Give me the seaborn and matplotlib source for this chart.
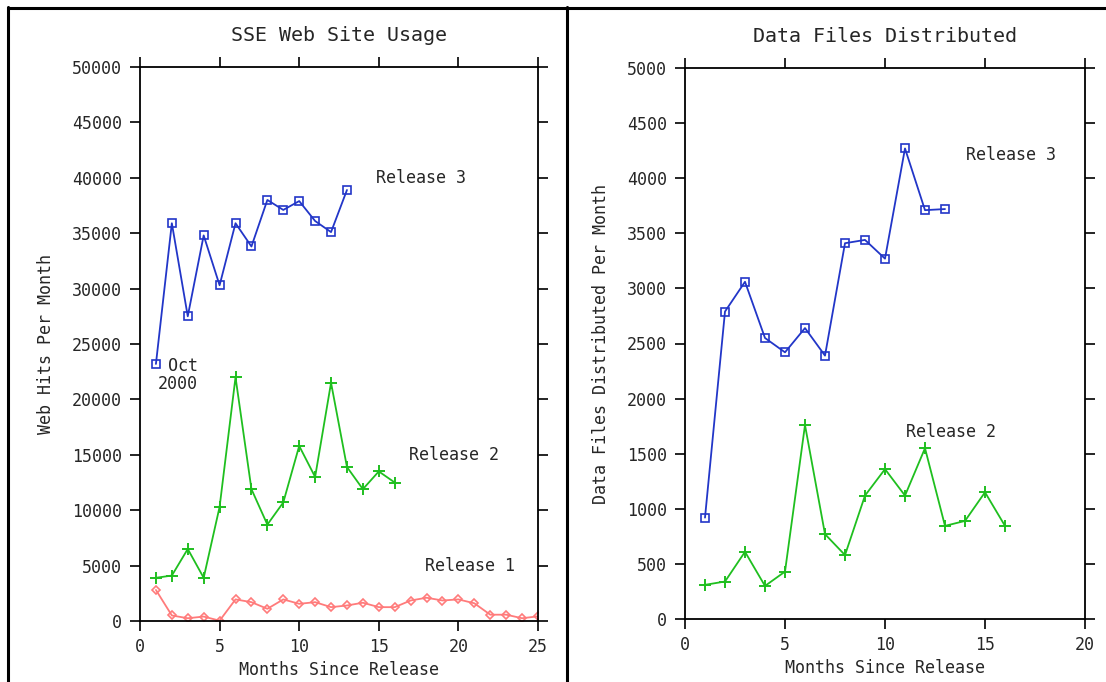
import numpy as np
import pandas as pd
import matplotlib
matplotlib.use("Agg")
import matplotlib.pyplot as plt
from matplotlib.lines import Line2D
import seaborn as sns

# ---------------- data ----------------
# SSE Web Site Usage (web hits per month)
web_r3_months = list(range(1, 14))
web_r3_hits = [23200, 35900, 27500, 34800, 30300, 35900, 33800, 38000, 37100, 37900, 36100, 35100, 38900]

web_r2_months = list(range(1, 17))
web_r2_hits = [3900, 4100, 6500, 3900, 10300, 22000, 11900, 8700, 10700, 15800, 13000, 21500, 13900, 11900, 13500, 12500]

web_r1_months = list(range(1, 26))
web_r1_hits = [2800, 500, 250, 400, 30, 1950, 1700, 1100, 1950, 1550, 1700, 1250, 1400, 1650, 1250,
               1250, 1850, 2100, 1850, 1950, 1600, 570, 570, 250, 420]

# Data files distributed per month
files_r3_months = list(range(1, 14))
files_r3 = [920, 2790, 3060, 2550, 2420, 2640, 2390, 3410, 3440, 3270, 4270, 3710, 3720]

files_r2_months = list(range(1, 17))
files_r2 = [310, 340, 610, 300, 430, 1760, 770, 580, 1120, 1360, 1120, 1550, 845, 890, 1150, 845]

BLUE = "#2236c8"
GREEN = "#1fbf1f"
RED = "#ff7b7b"

sns.set_style("white")
plt.rcParams["font.family"] = ["DejaVu Sans Mono"]
plt.rcParams["font.size"] = 12

fig = plt.figure(figsize=(11.06, 6.82), dpi=100)

ax1 = fig.add_axes([140 / 1106, 1 - 621 / 682, 398 / 1106, 554 / 682])
ax2 = fig.add_axes([685 / 1106, 1 - 619 / 682, 400 / 1106, 551 / 682])


def draw(ax, x, y, color, marker, ms):
    if marker == "+":
        sns.lineplot(x=x, y=y, ax=ax, color=color, lw=1.3, marker="+", ms=ms,
                     mew=1.4, mec=color)
    else:
        sns.lineplot(x=x, y=y, ax=ax, color=color, lw=1.3, marker=marker, ms=ms,
                     mfc="none", mec=color, mew=1.2)


draw(ax1, web_r3_months, web_r3_hits, BLUE, "s", 5.5)
draw(ax1, web_r2_months, web_r2_hits, GREEN, "+", 8)
draw(ax1, web_r1_months, web_r1_hits, RED, "D", 4.5)

draw(ax2, files_r3_months, files_r3, BLUE, "s", 5.5)
draw(ax2, files_r2_months, files_r2, GREEN, "+", 8)

# labels inside the plots
ax1.text(14.8, 40000, "Release 3", va="center", ha="left")
ax1.text(16.9, 15000, "Release 2", va="center", ha="left")
ax1.text(17.9, 5000, "Release 1", va="center", ha="left")
ax1.text(3.65, 22200, "Oct\n2000", va="center", ha="right", linespacing=1.0)

ax2.text(14.05, 4210, "Release 3", va="center", ha="left")
ax2.text(11.05, 1700, "Release 2", va="center", ha="left")

# axes styling
ax1.set_xlim(0, 25)
ax1.set_ylim(0, 50000)
ax1.set_xticks(np.arange(0, 26, 5))
ax1.set_yticks(np.arange(0, 50001, 5000))
ax1.set_title("SSE Web Site Usage", pad=19)
ax1.set_xlabel("Months Since Release", labelpad=4)
ax1.set_ylabel("Web Hits Per Month", labelpad=12)

ax2.set_xlim(0, 20)
ax2.set_ylim(0, 5000)
ax2.set_xticks(np.arange(0, 21, 5))
ax2.set_yticks(np.arange(0, 5001, 500))
ax2.set_title("Data Files Distributed", pad=19)
ax2.set_xlabel("Months Since Release", labelpad=4)
ax2.set_ylabel("Data Files Distributed Per Month", labelpad=12)

for ax in (ax1, ax2):
    for s in ax.spines.values():
        s.set_visible(True)
        s.set_color("black")
        s.set_linewidth(1.3)
    ax.tick_params(axis="both", which="both", direction="out", length=7, width=1.2,
                   color="black", top=True, right=True, bottom=True, left=True,
                   labeltop=False, labelright=False)
    ax.tick_params(axis="x", pad=5)
    ax.tick_params(axis="y", pad=6)
    ax.grid(False)

# outer frame lines
fig.add_artist(Line2D([8 / 1106, 8 / 1106], [0, 1 - 7 / 682], transform=fig.transFigure,
                      color="black", lw=2.2))
fig.add_artist(Line2D([8 / 1106, 1], [1 - 8 / 682, 1 - 8 / 682], transform=fig.transFigure,
                      color="black", lw=2.2))
fig.add_artist(Line2D([567 / 1106, 567 / 1106], [0, 1 - 7 / 682], transform=fig.transFigure,
                      color="black", lw=2.2))

fig.savefig("out.png", dpi=100)
